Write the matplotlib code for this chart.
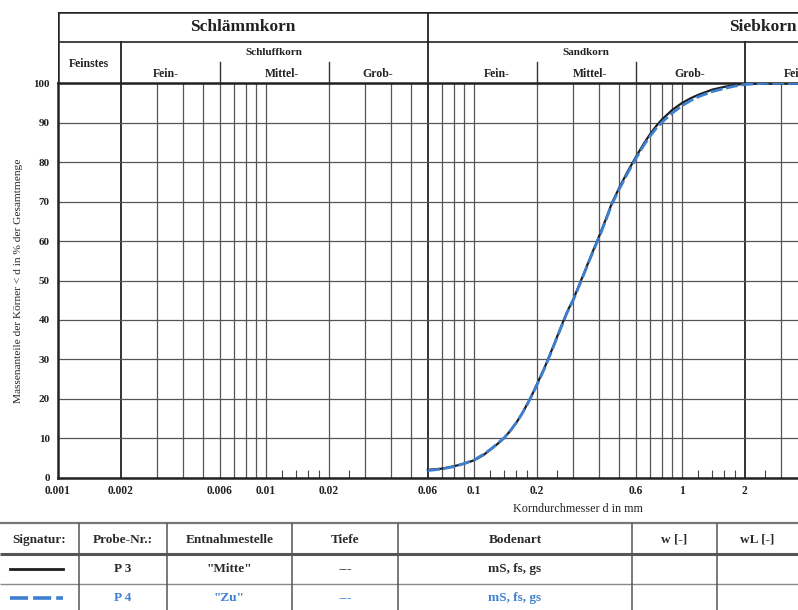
import numpy as np
import matplotlib.pyplot as plt
from matplotlib.ticker import NullFormatter

plt.rcParams['font.family'] = ['Liberation Serif', 'DejaVu Serif']
plt.rcParams['font.weight'] = 'bold'

# Körnungslinie P 3 ("Mitte")
p3_d = [0.06, 0.07, 0.08, 0.09, 0.1, 0.11, 0.12, 0.13, 0.14, 0.15, 0.16, 0.17, 0.18,
        0.19, 0.2, 0.22, 0.24, 0.26, 0.28, 0.3, 0.32, 0.34, 0.37, 0.4, 0.43, 0.46,
        0.5, 0.55, 0.6, 0.65, 0.7, 0.75, 0.8, 0.9, 1.0, 1.1, 1.2, 1.4, 1.6, 1.8,
        2.0, 3.0, 100]
p3_pct = [2.0, 2.3, 2.9, 3.6, 4.4, 5.6, 7.1, 8.6, 10.1, 12.0, 14.0, 16.2, 18.6,
          21.0, 23.5, 28.3, 33.2, 37.8, 42.0, 45.2, 48.8, 52.2, 57.0, 61.3, 65.5, 69.6,
          73.6, 77.8, 81.3, 84.4, 87.0, 89.1, 90.8, 93.3, 95.0, 96.2, 97.1, 98.4, 99.1, 99.6,
          99.9, 100.0, 100.0]

# Körnungslinie P 4 ("Zu")
p4_d = [0.06, 0.07, 0.08, 0.09, 0.1, 0.11, 0.12, 0.13, 0.14, 0.15, 0.16, 0.17, 0.18,
        0.19, 0.2, 0.22, 0.24, 0.26, 0.28, 0.3, 0.32, 0.34, 0.37, 0.4, 0.43, 0.46,
        0.5, 0.55, 0.6, 0.65, 0.7, 0.75, 0.8, 0.9, 1.0, 1.1, 1.2, 1.4, 1.6, 1.8,
        2.0, 2.5, 3.0, 100]
p4_pct = [1.8, 2.2, 2.8, 3.6, 4.5, 5.8, 7.2, 8.7, 10.2, 12.0, 14.0, 16.2, 18.5,
          20.9, 23.3, 28.1, 33.0, 37.6, 41.8, 45.0, 48.6, 52.0, 56.8, 61.0, 65.2, 69.3,
          73.2, 77.4, 80.9, 84.0, 86.5, 88.5, 90.1, 92.5, 94.3, 95.6, 96.6, 97.9, 98.7, 99.3,
          99.7, 100.0, 100.0, 100.0]

grid_lines = [0.002, 0.003, 0.004, 0.005, 0.006, 0.007, 0.008, 0.009, 0.01, 0.02,
              0.03, 0.04, 0.05, 0.06, 0.07, 0.08, 0.09, 0.1, 0.2, 0.3, 0.4, 0.5,
              0.6, 0.7, 0.8, 0.9, 1, 2, 3, 4, 5, 6, 7, 8, 9, 10, 20, 30, 40, 50, 60]
heavy_lines = [0.002, 0.06, 2, 60]
small_ticks = [0.012, 0.014, 0.016, 0.018, 0.025, 0.12, 0.14, 0.16, 0.18, 0.25,
               1.2, 1.4, 1.6, 1.8, 2.5, 12, 14, 16, 18, 25]
x_ticks = [0.001, 0.002, 0.006, 0.01, 0.02, 0.06, 0.1, 0.2, 0.6, 1, 2]
x_labels = ['0.001', '0.002', '0.006', '0.01', '0.02', '0.06', '0.1', '0.2', '0.6', '1', '2']

# header groups and fraction labels
main_groups = [('Schlämmkorn', 0.001, 0.06), ('Siebkorn', 0.06, 100)]
sub_groups = [('Schluffkorn', 0.002, 0.06), ('Sandkorn', 0.06, 2)]
fraction_labels = [('Fein-', 0.0033), ('Mittel-', 0.0119), ('Grob-', 0.0346),
                   ('Fein-', 0.129), ('Mittel-', 0.361), ('Grob-', 1.093),
                   ('Fein-', 3.55)]
sub_bounds = [0.006, 0.02, 0.2, 0.6, 6, 20]

# table
col_edges = [0, 79, 167, 292, 398, 632, 717, 797]
col_heads = ['Signatur:', 'Probe-Nr.:', 'Entnahmestelle', 'Tiefe', 'Bodenart', 'w [-]', 'wL [-]']
rows = [['P 3', '"Mitte"', '---', 'mS, fs, gs', '', ''],
        ['P 4', '"Zu"', '---', 'mS, fs, gs', '', '']]

black = '#1e1e1e'
blue = '#3d7fd0'
gridc = '#555555'
textc = '#222222'

W, H = 798, 610
fig = plt.figure(figsize=(W / 100, H / 100), dpi=100)

# axes run past the right edge like the cropped scan
left, right_px = 58, 1098
top_px, bot_px, head_px = 83.3, 477.7, 12.3
ax = fig.add_axes([left / W, (H - bot_px) / H, (right_px - left) / W, (bot_px - top_px) / H])
hx = fig.add_axes([left / W, (H - top_px) / H, (right_px - left) / W, (top_px - head_px) / H])

ax.set_xscale('log')
ax.set_xlim(0.001, 100)
ax.set_ylim(0, 100)
for v in grid_lines:
    if v in heavy_lines:
        ax.axvline(v, color='#222222', lw=1.3, zorder=1)
    else:
        ax.axvline(v, color=gridc, lw=0.9, zorder=1)
ax.set_yticks(range(0, 101, 10))
ax.grid(axis='y', color=gridc, lw=0.9, zorder=1)
for s in ['left', 'bottom', 'top']:
    ax.spines[s].set_linewidth(1.8)
    ax.spines[s].set_color('#222222')
ax.spines['right'].set_visible(False)

ax.plot(p3_d, p3_pct, color=black, lw=1.6, zorder=3)
ax.plot(p4_d, p4_pct, color=blue, lw=2.0, dashes=(4.3, 1.3), zorder=4)

ax.set_xticks(x_ticks, x_labels)
ax.set_xticks(small_ticks, minor=True)
ax.xaxis.set_minor_formatter(NullFormatter())
ax.tick_params(axis='x', which='major', length=0, pad=5, labelsize=8.3, labelcolor=textc)
ax.tick_params(axis='x', which='minor', direction='in', length=6, width=0.8, color='#444444')
ax.tick_params(axis='y', length=0, pad=6, labelsize=8, labelcolor=textc)

ax.set_xlabel('Korndurchmesser d in mm', fontsize=8.7, color=textc)
ax.xaxis.set_label_coords(0.5, -0.064)
ax.set_ylabel('Massenanteile der Körner < d in % der Gesamtmenge', fontsize=8.2, color=textc)
ax.yaxis.set_label_coords(-0.034, 0.5)

# header block
hx.set_xscale('log')
hx.set_xlim(0.001, 100)
hx.set_ylim(0, 1)
hx.set_axis_off()
hx.axhline(1, color='#222222', lw=1.8)
hx.axvline(0.001, color='#222222', lw=1.8)
row_y = 0.586
sub_y = 0.307
hx.axhline(row_y, color='#333333', lw=1.3)
hx.axvline(0.06, color='#222222', lw=1.3)
for v in [0.002, 2, 60]:
    hx.plot([v, v], [0, row_y], color='#222222', lw=1.3)
for v in sub_bounds:
    hx.plot([v, v], [0, sub_y], color='#333333', lw=1.0)
for name, a, b in main_groups:
    hx.text(np.sqrt(a * b), 0.793, name, ha='center', va='center', fontsize=12.5, color=textc)
for name, a, b in sub_groups:
    hx.text(np.sqrt(a * b), 0.434, name, ha='center', va='center', fontsize=8, color=textc)
hx.text(np.sqrt(0.001 * 0.002), 0.272, 'Feinstes', ha='center', va='center', fontsize=8.5, color=textc)
for name, xv in fraction_labels:
    hx.text(xv, 0.131, name, ha='center', va='center', fontsize=8.5, color=textc)

# table below the chart, in pixel units
tx = fig.add_axes([0, 0, 1, 1])
tx.set_xlim(0, W)
tx.set_ylim(H, 0)
tx.set_axis_off()
tx.hlines(523.3, 0, W, color='#777777', lw=1.6)
tx.hlines(554, 0, W, color='#555555', lw=2.2)
tx.hlines(583.5, 0, W, color='#888888', lw=1.0)
tx.vlines(col_edges[1:-1], 523.3, H, color='#555555', lw=1.1)
centers = [(col_edges[i] + col_edges[i + 1]) / 2 for i in range(len(col_edges) - 1)]
for c, name in zip(centers, col_heads):
    tx.text(c, 540, name, ha='center', va='center', fontsize=9.5, color='#2a2a2a')
row_y_px = [569, 598]
row_colors = ['#2a2a2a', blue]
for ry, vals, col in zip(row_y_px, rows, row_colors):
    for c, val in zip(centers[1:], vals):
        tx.text(c, ry, val, ha='center', va='center', fontsize=9.5, color=col)
tx.plot([10, 63], [row_y_px[0], row_y_px[0]], color=black, lw=2.0)
tx.plot([10, 63], [row_y_px[1], row_y_px[1]], color=blue, lw=2.6, dashes=(5, 1.4))

fig.savefig('out.png', dpi=100)
